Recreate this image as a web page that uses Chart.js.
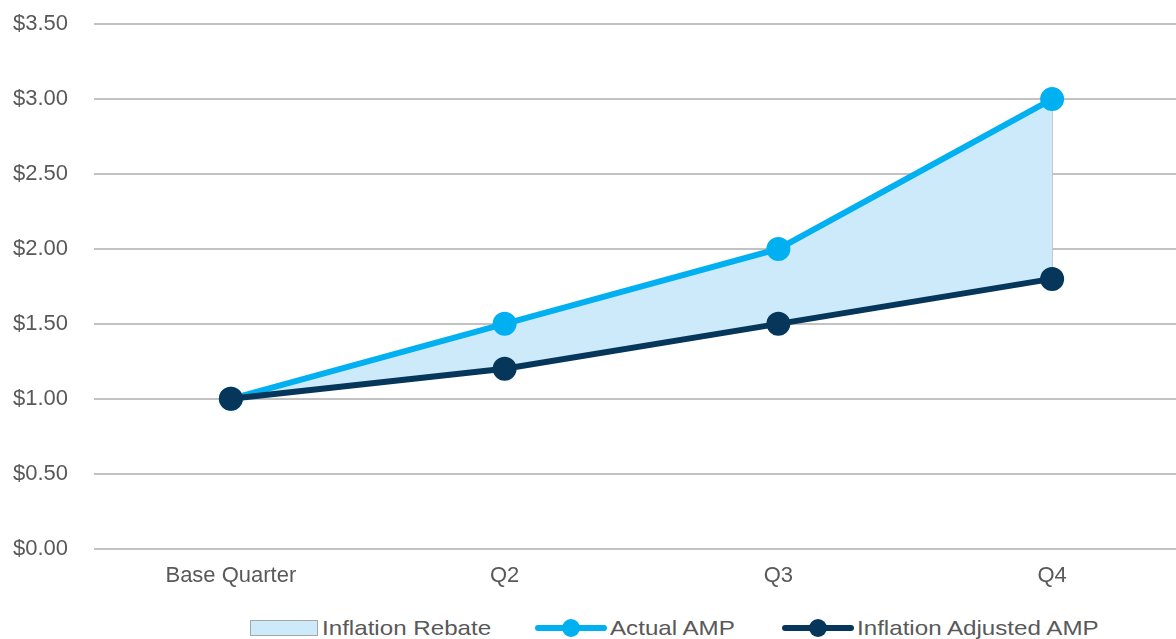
<!DOCTYPE html>
<html>
<head>
<meta charset="utf-8">
<script src="https://cdn.jsdelivr.net/npm/chart.js@4"></script>
<style>
  html, body { margin: 0; padding: 0; background: #fff; overflow: hidden; width: 1176px; height: 639px; }
  #wrap { position: absolute; left: 0; top: -15px; width: 1204px; height: 610px; }
  #legend { position: absolute; top: 615px; left: 0; width: 1176px; height: 26px;
    font-family: "Liberation Sans", Arial, sans-serif; font-size: 21px; color: #595959; }
  .item { position: absolute; top: 0; display: flex; align-items: center; height: 26px; }
  .item span { display: inline-block; transform: scaleX(1.15); transform-origin: left center; white-space: nowrap; }
  .box { width: 66px; height: 14px; background: #cdeafb; border: 1px solid #a6a6a6; margin-right: 4px; }
  .mark { position: relative; width: 72px; height: 26px; margin-right: 3px; }
  .mark .ln { position: absolute; left: 0; right: 0; top: 10px; height: 6px; border-radius: 3px; }
  .mark .dot { position: absolute; left: 27px; top: 4px; width: 18px; height: 18px; border-radius: 50%; }
</style>
</head>
<body>
<div id="wrap"><canvas id="chart" width="1204" height="610"></canvas></div>
<div id="legend"></div>
<script>
// categories and values
const quarters = ["Base Quarter", "Q2", "Q3", "Q4"];
const actualAmp = [1.0, 1.5, 2.0, 3.0];
const adjustedAmp = [1.0, 1.2, 1.5, 1.8];
const legendLabels = ["Inflation Rebate", "Actual AMP", "Inflation Adjusted AMP"];

const lightBlue = "#00b0f0";
const darkBlue = "#06375a";
const rebateFill = "#cdeafb";

// vertical gray edge at the right end of the rebate area
const edgeLine = {
  id: "edgeLine",
  beforeDatasetsDraw(chart) {
    const x = chart.scales.x, y = chart.scales.y;
    const last = quarters.length - 1;
    const ctx = chart.ctx;
    ctx.save();
    ctx.strokeStyle = "#bfbfbf";
    ctx.lineWidth = 1.5;
    ctx.beginPath();
    ctx.moveTo(x.getPixelForValue(last), y.getPixelForValue(actualAmp[last]));
    ctx.lineTo(x.getPixelForValue(last), y.getPixelForValue(adjustedAmp[last]));
    ctx.stroke();
    ctx.restore();
  }
};

const ctx = document.getElementById("chart").getContext("2d");
new Chart(ctx, {
  type: "line",
  data: {
    labels: quarters,
    datasets: [
      {
        label: legendLabels[0],
        data: actualAmp,
        borderWidth: 0,
        pointRadius: 0,
        backgroundColor: rebateFill,
        fill: { target: 2 },
        order: 3
      },
      {
        label: legendLabels[1],
        data: actualAmp,
        borderColor: lightBlue,
        backgroundColor: lightBlue,
        borderWidth: 6,
        pointRadius: 9,
        pointHoverRadius: 9,
        fill: false,
        order: 2
      },
      {
        label: legendLabels[2],
        data: adjustedAmp,
        borderColor: darkBlue,
        backgroundColor: darkBlue,
        borderWidth: 6,
        pointRadius: 9,
        pointHoverRadius: 9,
        fill: false,
        order: 1
      }
    ]
  },
  options: {
    responsive: false,
    animation: false,
    layout: { padding: { top: 13, right: 10, left: 0, bottom: 0 } },
    plugins: { legend: { display: false }, tooltip: { enabled: false } },
    scales: {
      x: {
        offset: true,
        grid: { display: false },
        border: { display: false },
        ticks: { color: "#595959", font: { family: "Liberation Sans", size: 22 }, padding: 6 }
      },
      y: {
        min: 0,
        max: 3.5,
        border: { display: false },
        grid: { color: "#c2c2c2", lineWidth: 2, drawTicks: false },
        afterFit: s => { s.width = 94; },
        ticks: {
          stepSize: 0.5,
          color: "#595959",
          padding: 26,
          font: { family: "Liberation Sans", size: 22 },
          callback: v => "$" + v.toFixed(2)
        }
      }
    }
  },
  plugins: [edgeLine]
});

// html legend
const legend = document.getElementById("legend");
const items = [
  { left: 250, html: '<div class="box"></div>' },
  { left: 535, html: '<div class="mark"><div class="ln" style="background:' + lightBlue + '"></div><div class="dot" style="background:' + lightBlue + '"></div></div>' },
  { left: 782, html: '<div class="mark"><div class="ln" style="background:' + darkBlue + '"></div><div class="dot" style="background:' + darkBlue + '"></div></div>' }
];
items.forEach((it, i) => {
  const d = document.createElement("div");
  d.className = "item";
  d.style.left = it.left + "px";
  d.innerHTML = it.html + "<span>" + legendLabels[i] + "</span>";
  legend.appendChild(d);
});
</script>
</body>
</html>
